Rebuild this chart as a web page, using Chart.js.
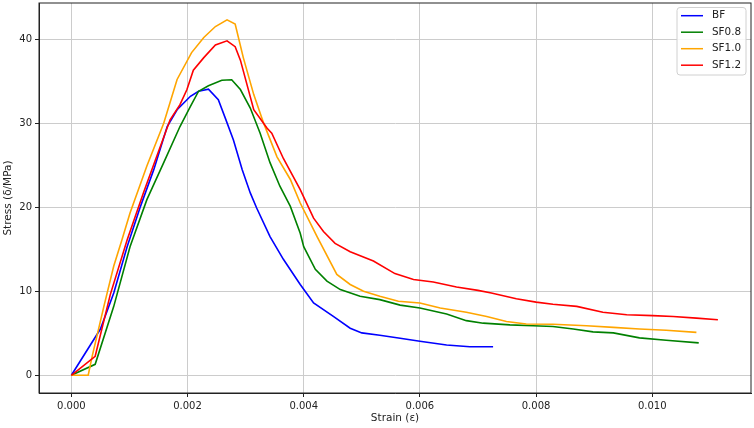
<!DOCTYPE html>
<html>
<head>
<meta charset="utf-8">
<script src="https://cdn.jsdelivr.net/npm/chart.js@4.4.1/dist/chart.umd.min.js"></script>
<style>
  html, body { margin: 0; padding: 0; background: #fff; }
  #wrap { width: 754px; height: 428px; }
</style>
</head>
<body>
<div id="wrap"><canvas id="stressChart" width="754" height="428"></canvas></div>
<script>
const seriesNames = ['BF', 'SF0.8', 'SF1.0', 'SF1.2'];
const seriesColors = ['#0000ff', '#008000', '#ffa500', '#ff0000'];

const bfStrain = [0, 0.0005, 0.00073, 0.00096, 0.00119, 0.00142, 0.00165, 0.00182, 0.00205, 0.00219, 0.00236, 0.00253, 0.00265, 0.00279, 0.00294, 0.00308, 0.00319, 0.00342, 0.00365, 0.00394, 0.00417, 0.00451, 0.0048, 0.005, 0.00531, 0.00566, 0.006, 0.00646, 0.00686, 0.00726];
const bfStress = [0, 5.5, 9.8, 15.3, 20.1, 24.5, 29.6, 31.6, 33.2, 33.8, 34.05, 32.8, 30.6, 28.0, 24.5, 21.7, 19.9, 16.5, 13.8, 10.8, 8.6, 7.0, 5.6, 5.04, 4.76, 4.4, 4.05, 3.6, 3.4, 3.4];

const sf08Strain = [0, 0.00041, 0.00073, 0.00101, 0.0013, 0.00159, 0.00187, 0.00205, 0.00219, 0.00236, 0.00259, 0.00276, 0.00291, 0.00308, 0.00325, 0.00342, 0.00359, 0.00377, 0.00394, 0.004, 0.0042, 0.0044, 0.00463, 0.00497, 0.00531, 0.00566, 0.006, 0.00646, 0.0068, 0.00709, 0.00755, 0.00795, 0.00829, 0.00864, 0.00898, 0.00933, 0.00978, 0.01024, 0.0108];
const sf08Stress = [0, 1.3, 8.2, 15.3, 20.9, 25.3, 29.6, 32.0, 33.8, 34.45, 35.1, 35.16, 34.0, 31.8, 28.8, 25.3, 22.5, 20.1, 16.9, 15.3, 12.6, 11.2, 10.2, 9.4, 9.0, 8.35, 8.0, 7.3, 6.5, 6.2, 6.0, 5.9, 5.8, 5.5, 5.16, 5.04, 4.45, 4.16, 3.85];

const sf10Strain = [0, 0.00029, 0.00036, 0.00056, 0.00073, 0.00087, 0.00101, 0.0013, 0.00159, 0.00182, 0.00207, 0.00228, 0.00248, 0.00268, 0.00282, 0.00296, 0.00314, 0.00331, 0.00354, 0.00377, 0.00394, 0.00423, 0.00457, 0.0048, 0.00503, 0.00531, 0.00563, 0.006, 0.00635, 0.0068, 0.00715, 0.00749, 0.00783, 0.00829, 0.00887, 0.00933, 0.00978, 0.01024, 0.01076];
const sf10Stress = [0, 0, 2.3, 8.2, 13.0, 16.1, 19.3, 24.9, 30.0, 35.2, 38.4, 40.2, 41.5, 42.3, 41.8, 37.8, 33.4, 30.0, 26.0, 23.3, 20.5, 16.5, 12.0, 10.8, 10.0, 9.4, 8.8, 8.6, 8.0, 7.5, 7.0, 6.4, 6.1, 6.07, 5.9, 5.7, 5.5, 5.35, 5.1];

const sf12Strain = [0, 0.00041, 0.00067, 0.00096, 0.00124, 0.00153, 0.0017, 0.00187, 0.00199, 0.0021, 0.00228, 0.00248, 0.00268, 0.00282, 0.00291, 0.00314, 0.00337, 0.00345, 0.00365, 0.00394, 0.00417, 0.00434, 0.00454, 0.0048, 0.0052, 0.00557, 0.00589, 0.00623, 0.00663, 0.007, 0.00723, 0.00766, 0.008, 0.00829, 0.0087, 0.00915, 0.00956, 0.01001, 0.01036, 0.01076, 0.01113];
const sf12Stress = [0, 2.26, 9.6, 16.1, 21.7, 27.2, 30.4, 32.2, 34.0, 36.3, 37.8, 39.3, 39.8, 39.1, 37.5, 31.6, 29.4, 28.8, 25.8, 22.1, 18.7, 17.1, 15.7, 14.7, 13.6, 12.1, 11.4, 11.1, 10.5, 10.1, 9.8, 9.1, 8.7, 8.45, 8.2, 7.5, 7.2, 7.1, 7.0, 6.8, 6.6];

const xTicks = [0, 0.002, 0.004, 0.006, 0.008, 0.010];
const yTicks = [0, 10, 20, 30, 40];

const FONT = 'DejaVu Sans';

function toPoints(xs, ys) {
  return xs.map((x, i) => ({ x, y: ys[i] }));
}

// matplotlib style frame + legend box in the upper right corner
const framePlugin = {
  id: 'frame',
  afterDraw(chart) {
    const { ctx, chartArea: a } = chart;
    ctx.save();
    ctx.strokeStyle = '#222';
    ctx.lineWidth = 1;
    ctx.strokeRect(a.left, a.top, a.right - a.left, a.bottom - a.top);

    const bx = 677, by = 7.5, bw = 69, bh = 67.5;
    ctx.fillStyle = 'rgba(255,255,255,0.85)';
    ctx.strokeStyle = '#d0d0d0';
    ctx.beginPath();
    ctx.roundRect(bx, by, bw, bh, 3);
    ctx.fill();
    ctx.stroke();

    ctx.font = `10.4px "${FONT}"`;
    ctx.textBaseline = 'middle';
    chart.data.datasets.forEach((ds, i) => {
      const y = 15.7 + i * 16.5;
      ctx.strokeStyle = ds.borderColor;
      ctx.lineWidth = 1.5;
      ctx.beginPath();
      ctx.moveTo(681, y);
      ctx.lineTo(703, y);
      ctx.stroke();
      ctx.fillStyle = '#222';
      ctx.fillText(ds.label, 712, y);
    });
    ctx.restore();
  }
};

function renderChart() {
  const pairs = [[bfStrain, bfStress], [sf08Strain, sf08Stress], [sf10Strain, sf10Stress], [sf12Strain, sf12Stress]];
  const datasets = pairs.map((p, i) => ({
    label: seriesNames[i],
    data: toPoints(p[0], p[1]),
    borderColor: seriesColors[i],
    backgroundColor: seriesColors[i],
    borderWidth: 1.6,
    pointRadius: 0,
    tension: 0,
    fill: false,
    order: pairs.length - i
  }));

  const ctx = document.getElementById('stressChart').getContext('2d');
  new Chart(ctx, {
    type: 'line',
    data: { datasets },
    options: {
      responsive: false,
      animation: false,
      layout: { padding: { top: 3, right: 3, left: 0, bottom: 0 } },
      plugins: {
        legend: { display: false },
        tooltip: { enabled: false }
      },
      scales: {
        x: {
          type: 'linear',
          min: -0.000557,
          max: 0.0117,
          afterBuildTicks: s => { s.ticks = xTicks.map(v => ({ value: v })); },
          afterFit: s => { s.height = 35; s.paddingLeft = 0; s.paddingRight = 0; },
          ticks: {
            color: '#222',
            font: { family: FONT, size: 10 },
            padding: 3,
            maxRotation: 0,
            callback: v => v.toFixed(3)
          },
          grid: { color: '#cccccc', lineWidth: 1, tickLength: 4, tickColor: '#222' },
          border: { display: true, color: '#222' },
          title: {
            display: true,
            text: 'Strain (ε)',
            color: '#222',
            font: { family: FONT, size: 10.5 },
            padding: { top: 0, bottom: 3 }
          }
        },
        y: {
          type: 'linear',
          min: -2.11,
          max: 44.3,
          afterBuildTicks: s => { s.ticks = yTicks.map(v => ({ value: v })); },
          afterFit: s => { s.width = 39; s.paddingTop = 0; s.paddingBottom = 0; },
          ticks: {
            color: '#222',
            font: { family: FONT, size: 10 },
            padding: 3
          },
          grid: { color: '#cccccc', lineWidth: 1, tickLength: 4, tickColor: '#222' },
          border: { display: true, color: '#222' },
          title: {
            display: true,
            text: 'Stress (δ/MPa)',
            color: '#222',
            font: { family: FONT, size: 10.5 },
            padding: { top: 2, bottom: 0 }
          }
        }
      }
    },
    plugins: [framePlugin]
  });
}

renderChart();
</script>
</body>
</html>
